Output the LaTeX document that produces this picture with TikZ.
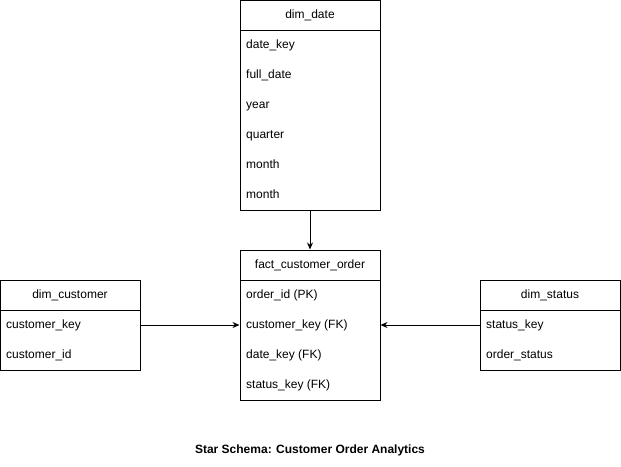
\documentclass[tikz,border=0pt]{standalone}
\usepackage{fontspec}
\setmainfont{Liberation Sans}
\usetikzlibrary{arrows.meta}

\begin{document}
\begin{tikzpicture}[
  x=1pt, y=-1pt,
  >=Stealth,
  every node/.style={font=\fontsize{12}{14}\selectfont},
  head/.style={draw, line width=1pt, minimum width=140pt, minimum height=30pt, inner sep=0pt},
  body/.style={draw, line width=1pt, minimum width=140pt, inner sep=0pt, anchor=north},
  field/.style={anchor=west, inner sep=0pt, text height=9pt, text depth=3pt},
  link/.style={-{Stealth[length=7pt, width=6pt]}, line width=1pt}
]
  \useasboundingbox (0,0) rectangle (621,466);

  % dimension and fact tables
  \node[head] (date) at (310,15) {dim\_date};
  \node[body, minimum height=180pt] (datebody) at (310,30) {};
  \foreach \t [count=\i] in {date\_key, full\_date, year, quarter, month, month}
    \node[field] (date-\i) at (246,15+30*\i) {\t};

  \node[head] (fact) at (310,265) {fact\_customer\_order};
  \node[body, minimum height=120pt] (factbody) at (310,280) {};
  \foreach \t [count=\i] in {order\_id (PK), customer\_key (FK), date\_key (FK), status\_key (FK)}
    \node[field] (fact-\i) at (246,265+30*\i) {\t};

  \node[head] (cust) at (70,295) {dim\_customer};
  \node[body, minimum height=60pt] (custbody) at (70,310) {};
  \foreach \t [count=\i] in {customer\_key, customer\_id}
    \node[field] (cust-\i) at (6,295+30*\i) {\t};

  \node[head] (status) at (550,295) {dim\_status};
  \node[body, minimum height=60pt] (statusbody) at (550,310) {};
  \foreach \t [count=\i] in {status\_key, order\_status}
    \node[field] (status-\i) at (486,295+30*\i) {\t};

  % links to the fact table
  \draw[link] (datebody.south) -- (fact.north);
  \draw[link] (custbody.east |- cust-1) -- (factbody.west |- fact-2);
  \draw[link] (statusbody.west |- status-1) -- (factbody.east |- fact-2);

  \node[font=\fontsize{12}{14}\selectfont\bfseries] (title) at (310,450) {Star Schema: Customer Order Analytics};
\end{tikzpicture}
\end{document}
